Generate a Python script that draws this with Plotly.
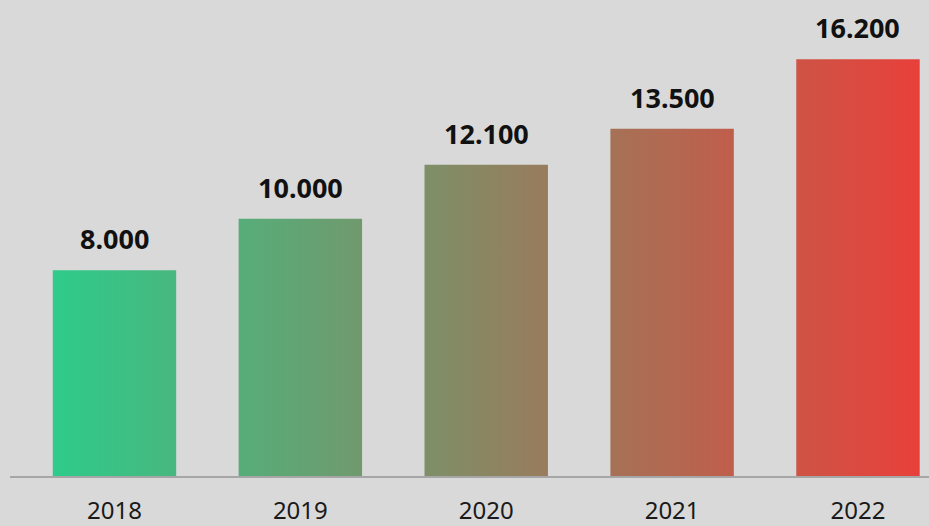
import plotly.graph_objects as go

# Yearly totals
years = ["2018", "2019", "2020", "2021", "2022"]
values = [8000, 10000, 12100, 13500, 16200]
value_labels = ["8.000", "10.000", "12.100", "13.500", "16.200"]

BAR_WIDTH = 0.664
GREEN = "#2ecb8a"
RED = "#e8403a"
BG = "#d9d9d9"

# Bars are drawn as filled rectangles in data space so that one
# horizontal gradient (green -> red) runs across all of them.
xs, ys = [], []
for i, v in enumerate(values):
    x0, x1 = i - BAR_WIDTH / 2, i + BAR_WIDTH / 2
    xs += [x0, x1, x1, x0, x0, None]
    ys += [0, 0, v, v, 0, None]

fig = go.Figure()
fig.add_trace(go.Scatter(
    x=xs, y=ys,
    mode="lines",
    line=dict(width=0),
    fill="toself",
    fillgradient=dict(
        type="horizontal",
        colorscale=[[0, GREEN], [1, RED]],
        start=-BAR_WIDTH / 2,
        stop=len(values) - 1 + BAR_WIDTH / 2,
    ),
    hoverinfo="skip",
    showlegend=False,
))

# Value labels above each bar
for i, (v, t) in enumerate(zip(values, value_labels)):
    fig.add_annotation(
        x=i, y=v, text=f"<b>{t}</b>", showarrow=False,
        yanchor="bottom", yshift=11,
        font=dict(family="Noto Sans", size=27, color="#111111"),
    )

fig.update_layout(
    width=929, height=526,
    margin=dict(l=10, r=0, t=0, b=44),
    paper_bgcolor=BG, plot_bgcolor=BG,
    showlegend=False,
    xaxis=dict(
        range=[-0.562, 4.382],
        tickmode="array",
        tickvals=list(range(len(years))),
        ticktext=years,
        showgrid=False, zeroline=False,
        showline=True, linecolor="#a6a6a6", linewidth=2,
        ticks="", ticklabelstandoff=12,
        tickfont=dict(family="Noto Sans", size=24, color="#1a1a1a"),
        fixedrange=True,
    ),
    yaxis=dict(
        range=[0, 18500],
        visible=False, showgrid=False, zeroline=False,
        fixedrange=True,
    ),
)

fig.write_html("out.html")
